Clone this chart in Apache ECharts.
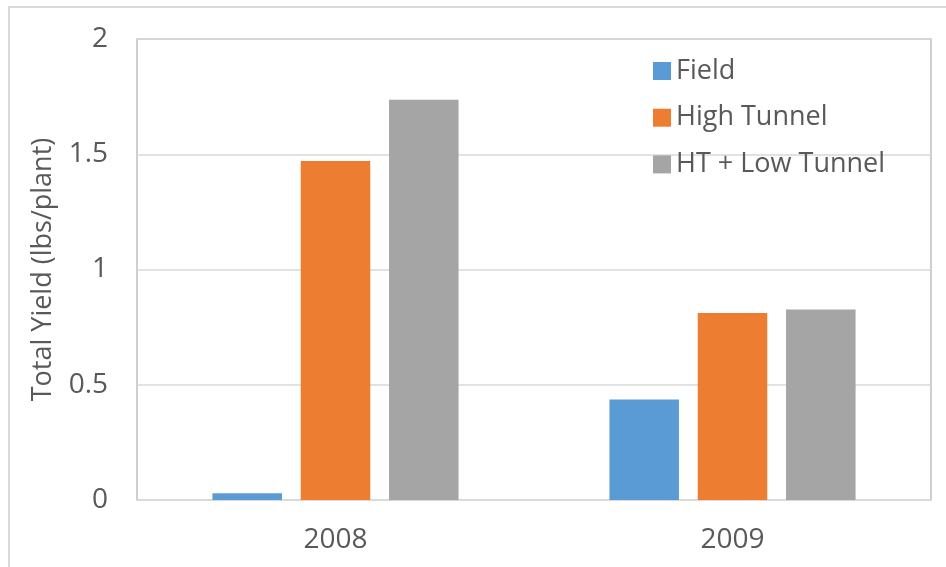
<!DOCTYPE html>
<html>
<head>
<meta charset="utf-8">
<script src="https://cdn.jsdelivr.net/npm/echarts@6/dist/echarts.min.js"></script>
<style>html,body{margin:0;padding:0;background:#fff;}#c{width:946px;height:567px;}</style>
</head>
<body>
<div id="c"></div>
<script>
const categories = ['2008', '2009'];
const seriesNames = ['Field', 'High Tunnel', 'HT + Low Tunnel'];
const fieldValues = [0.029, 0.436];
const highTunnelValues = [1.471, 0.811];
const htLowTunnelValues = [1.736, 0.826];
const yTicks = [0, 0.5, 1, 1.5, 2];
const colors = ['#5B9BD5', '#ED7D31', '#A5A5A5'];

const FONT = '"Open Sans", "Noto Sans", sans-serif';
const chart = echarts.init(document.getElementById('c'), null, {renderer: 'canvas'});
const values = [fieldValues, highTunnelValues, htLowTunnelValues];
chart.setOption({
  animation: false,
  backgroundColor: '#ffffff',
  color: colors,
  graphic: [{
    type: 'rect', silent: true, z: -10,
    shape: {x: 9, y: 7, width: 1000, height: 1000},
    style: {fill: 'none', stroke: '#d9d9d9', lineWidth: 2}
  }],
  grid: {
    left: 137, top: 39, right: 15, bottom: 67,
    show: true, borderColor: '#bfbfbf', borderWidth: 1.5, backgroundColor: 'transparent'
  },
  legend: {
    orient: 'vertical',
    left: 648, top: 52,
    itemWidth: 18, itemHeight: 18, itemGap: 18.7,
    icon: 'rect',
    data: seriesNames,
    textStyle: {color: '#595959', fontSize: 27, fontFamily: FONT, lineHeight: 28}
  },
  xAxis: {
    type: 'category',
    data: categories,
    axisLine: {show: true, lineStyle: {color: '#d9d9d9', width: 2}},
    axisTick: {show: false},
    axisLabel: {color: '#595959', fontSize: 28, fontFamily: FONT, margin: 26}
  },
  yAxis: {
    type: 'value',
    min: yTicks[0], max: yTicks[yTicks.length - 1], interval: yTicks[1] - yTicks[0],
    name: 'Total Yield (lbs/plant)',
    nameLocation: 'middle',
    nameGap: 80,
    nameTextStyle: {color: '#595959', fontSize: 27, fontFamily: FONT},
    axisLine: {show: false},
    axisTick: {show: false},
    splitLine: {show: true, lineStyle: {color: '#d9d9d9', width: 1.5}},
    axisLabel: {color: '#595959', fontSize: 28, fontFamily: FONT, margin: 29}
  },
  series: seriesNames.map((n, i) => ({
    name: n,
    type: 'bar',
    data: values[i],
    barGap: '27%',
    barCategoryGap: '38%',
    itemStyle: {color: colors[i]}
  }))
});
</script>
</body>
</html>
